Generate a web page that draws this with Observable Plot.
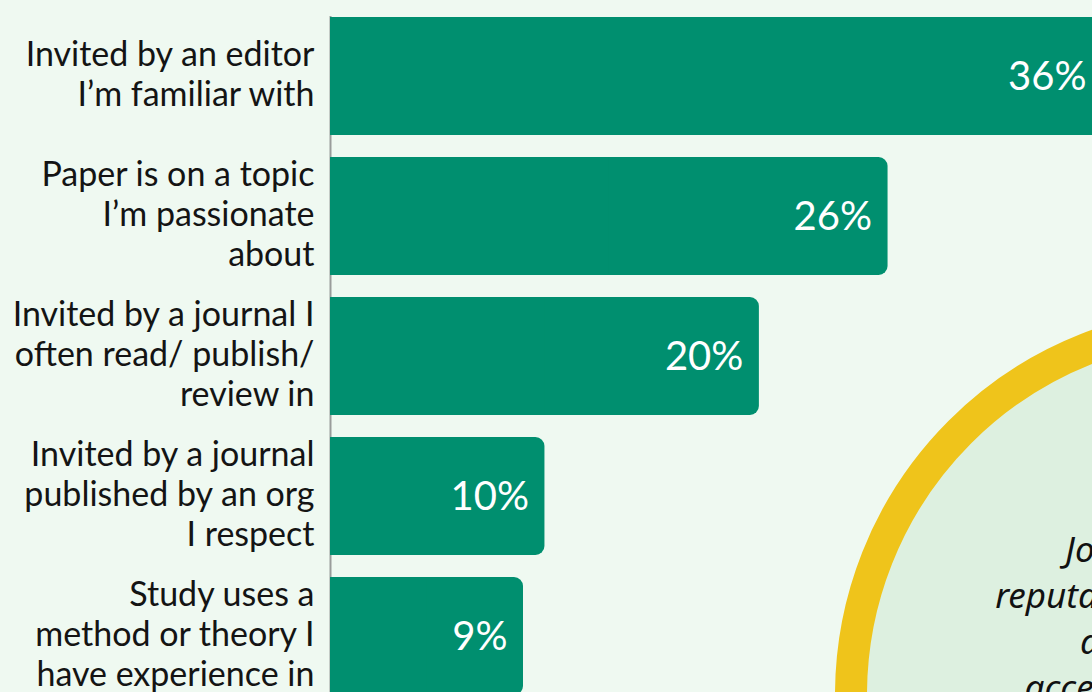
<!DOCTYPE html>
<html>
<head>
<meta charset="utf-8">
<script src="https://cdn.jsdelivr.net/npm/d3@7"></script>
<script src="https://cdn.jsdelivr.net/npm/@observablehq/plot@0.6"></script>
<style>
  html, body { margin: 0; padding: 0; overflow: hidden; background: #eff9f1; width: 1092px; height: 692px; }
  #wrap { position: relative; width: 1092px; height: 692px; overflow: hidden; }
  #callout {
    position: absolute; left: 835px; top: 307px; width: 776px; height: 776px;
    box-sizing: border-box; border: 32px solid #efc41b; border-radius: 50%;
    background: #ddf0e0;
  }
  #callout .txt {
    position: absolute; left: 0; right: 0; top: 187px; text-align: center;
    font-family: "Noto Sans", sans-serif; font-style: italic; font-size: 35px;
    line-height: 46px; color: #111;
  }
</style>
</head>
<body>
<div id="wrap"></div>
<script>
const categories = [
  "Invited by an editor\nI’m familiar with",
  "Paper is on a topic\nI’m passionate\nabout",
  "Invited by a journal I\noften read/ publish/\nreview in",
  "Invited by a journal\npublished by an org\nI respect",
  "Study uses a\nmethod or theory I\nhave experience in"
];
const values = [36, 26, 20, 10, 9];
const gridTicks = [10, 20, 30];
const calloutLines = ["Journal has a strong", "reputation within my subfield", "and its articles are", "accessible to every reader"];

const data = categories.map((c, i) => ({category: c, value: values[i]}));

const chart = Plot.plot({
  width: 1092,
  height: 696,
  marginLeft: 330,
  marginRight: 0,
  marginTop: 16,
  marginBottom: 0,
  style: {background: "transparent", overflow: "visible"},
  x: {domain: [0, 36], range: [330, 1102], axis: null},
  y: {domain: categories, paddingInner: 0.16, paddingOuter: 0, axis: null},
  marks: [
    Plot.ruleX(gridTicks, {x: d => d, y1: 16, y2: 696, stroke: "#bfc4c0", strokeWidth: 1.5}),
    Plot.ruleX([0], {stroke: "#9a9d9b", strokeWidth: 2}),
    Plot.barX(data, {x: "value", y: "category", fill: "#008f6f", rx: 9}),
    Plot.barX(data, {x1: 0, x2: d => d.value / 2, y: "category", fill: "#008f6f"}),
    Plot.text(data, {
      x: 0, y: "category", text: "category", textAnchor: "end", dx: -16, dy: -3,
      fontSize: 34, lineHeight: 1.18, fill: "#141414",
      fontFamily: "Lato"
    }),
    Plot.text(data, {
      x: "value", y: "category", text: d => d.value + "%", textAnchor: "end", dx: -16, dy: 1,
      fontSize: 40, fill: "white", fontFamily: "Lato"
    })
  ]
});

const wrap = document.getElementById("wrap");
wrap.appendChild(chart);
chart.style.position = "absolute";
chart.style.left = "0px";
chart.style.top = "0px";

const callout = document.createElement("div");
callout.id = "callout";
const txt = document.createElement("div");
txt.className = "txt";
calloutLines.forEach(l => { const d = document.createElement("div"); d.textContent = l; txt.appendChild(d); });
callout.appendChild(txt);
wrap.appendChild(callout);
</script>
</body>
</html>
